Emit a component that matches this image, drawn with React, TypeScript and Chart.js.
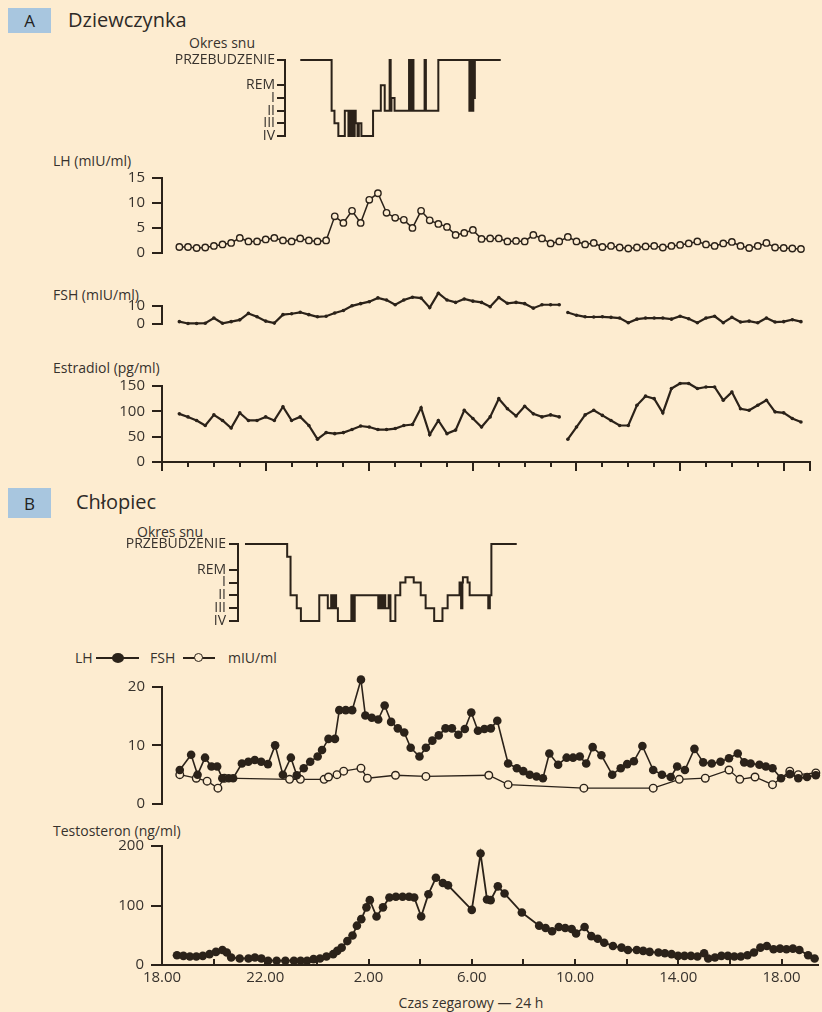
import React, { useEffect, useRef } from "react";
import { Chart, registerables } from "chart.js";

Chart.register(...registerables);

const W = 822;
const H = 1012;
const INK = "#2b2219";
const TEXT = "#37322d";
const BG = "#fdecd0";
const BOX = "#a8c6df";
const FONT = "'Open Sans', 'Noto Sans', 'DejaVu Sans', sans-serif";

// ---------- Panel A (girl): 20-min samples, hours after 18:00 ----------
const A_FIRST_SAMPLE_H = 0.67;
const A_SAMPLE_STEP_H = 1 / 3;
const A_BREAK_AFTER = 44; // assay break in FSH / estradiol

const A_LH = [
  1.2, 1.2, 1.0, 1.1, 1.4, 1.7, 2.0, 3.0, 2.3, 2.3,
  2.7, 3.0, 2.5, 2.3, 2.9, 2.5, 2.3, 2.5, 7.3, 6.0,
  8.4, 6.0, 10.6, 11.9, 8.0, 7.0, 6.6, 5.0, 8.4, 6.5,
  5.8, 5.2, 3.6, 4.0, 4.6, 2.8, 2.9, 2.9, 2.3, 2.4,
  2.3, 3.6, 2.9, 1.9, 2.3, 3.2, 2.3, 1.7, 2.0, 1.2,
  1.4, 1.1, 0.9, 1.1, 1.3, 1.4, 1.1, 1.4, 1.6, 1.9,
  2.3, 1.7, 1.4, 1.9, 2.2, 1.4, 1.0, 1.4, 2.0, 1.1,
  1.0, 0.9, 0.8,
];

const A_FSH = [
  1.3, 0.3, 0.3, 0.4, 3.3, 0.4, 1.3, 2.3, 5.9, 4.0,
  1.6, 0.5, 5.2, 5.7, 6.5, 5.2, 4.0, 4.3, 6.1, 7.5,
  10.1, 11.3, 12.4, 14.5, 13.3, 10.7, 13.3, 14.9, 14.4, 9.1,
  17.1, 13.3, 12.0, 13.9, 12.7, 12.0, 9.6, 14.7, 11.5, 12.0,
  11.3, 8.8, 10.7, 10.7, 10.7, 6.4, 4.9, 4.0, 3.9, 4.0,
  3.7, 3.3, 0.7, 2.7, 3.3, 3.3, 3.3, 2.7, 4.3, 2.9,
  0.7, 3.3, 4.3, 0.7, 3.7, 1.1, 1.6, 0.7, 3.3, 1.1,
  1.3, 2.4, 1.3,
];

const A_E2 = [
  95, 89, 82, 72, 93, 82, 67, 97, 82, 82,
  89, 82, 109, 82, 89, 72, 45, 58, 56, 58,
  64, 71, 69, 64, 64, 66, 72, 74, 107, 54,
  82, 56, 63, 102, 86, 69, 89, 125, 105, 91,
  110, 95, 89, 93, 89, 45, 69, 93, 102, 92,
  82, 72, 72, 112, 130, 125, 97, 145, 155, 155,
  145, 148, 148, 122, 138, 105, 102, 112, 122, 99,
  97, 86, 79,
];

// Sleep stage coding: IV=0, III=1, II=2, I=3, REM=4, awake=6
const STAGE_VALUES = [0, 1, 2, 3, 4, 6];
const STAGE_LABELS = ["IV", "III", "II", "I", "REM", "PRZEBUDZENIE"];

const HYP_A_T = [
  5.34, 6.55, 6.66, 6.81, 7.06, 7.20, 7.26, 7.32, 7.36, 7.40,
  7.44, 7.48, 7.55, 7.60, 7.70, 8.15, 8.45, 8.60, 8.79, 8.83,
  8.86, 8.98, 9.54, 9.58, 9.60, 9.64, 9.67, 9.71, 10.14, 10.19,
  10.67, 11.87, 11.90, 11.93, 11.96, 11.99, 12.02, 12.05, 12.08, 13.08,
];
const HYP_A_S = [
  6, 2, 1, 0, 2, 0, 2, 0, 2, 0,
  2, 1, 0, 1, 0, 2, 4, 2, 6, 2,
  3, 2, 6, 2, 6, 2, 6, 2, 6, 2,
  6, 2, 6, 2, 6, 2, 6, 3, 6, 6,
];

// ---------- Panel B (boy) ----------
const HYP_B_T = [
  3.20, 4.83, 4.96, 5.20, 5.36, 6.07, 6.40, 6.53, 6.60, 6.66,
  6.72, 6.79, 7.31, 7.34, 7.38, 7.41, 7.44, 8.35, 8.42, 8.49,
  8.55, 8.62, 8.75, 8.82, 9.01, 9.20, 9.40, 9.72, 9.99, 10.18,
  10.51, 10.83, 11.03, 11.49, 11.55, 11.60, 11.62, 11.80, 11.88, 12.60,
  12.66, 12.72, 13.70,
];
const HYP_B_S = [
  6, 5, 2, 1, 0, 2, 1, 2, 1, 2,
  1, 0, 2, 0, 2, 0, 2, 1, 2, 1,
  2, 1, 2, 0, 2, 3, 3.4, 3, 2, 1,
  0, 1, 2, 3, 1, 3, 3.4, 3, 2, 1,
  2, 6, 6,
];

const B_LH_T = [
  0.69, 1.13, 1.38, 1.67, 1.92, 2.14, 2.34, 2.59, 2.76, 3.10,
  3.35, 3.60, 3.85, 4.11, 4.39, 4.69, 5.00, 5.23, 5.50, 5.75,
  6.04, 6.21, 6.46, 6.71, 6.88, 7.13, 7.38, 7.72, 7.89, 8.14,
  8.39, 8.64, 8.89, 9.15, 9.40, 9.65, 9.99, 10.24, 10.49, 10.74,
  11.00, 11.25, 11.50, 11.75, 12.00, 12.26, 12.51, 12.76, 13.01, 13.43,
  13.77, 14.02, 14.27, 14.53, 14.78, 15.03, 15.37, 15.70, 15.95, 16.21,
  16.46, 16.71, 17.05, 17.47, 17.80, 18.05, 18.31, 18.64, 19.06, 19.40,
  19.74, 19.99, 20.29, 20.66, 21.00, 21.33, 21.67, 22.00, 22.34, 22.59,
  22.84, 23.18, 23.43, 23.69, 24.02, 24.36, 24.69, 25.03, 25.37,
];
const B_LH_V = [
  5.8, 8.4, 5.0, 7.9, 6.4, 6.4, 4.4, 4.4, 4.4, 6.9,
  7.2, 7.5, 7.2, 6.8, 10.0, 5.0, 7.9, 4.9, 6.1, 7.2,
  8.1, 9.2, 11.1, 11.1, 16.0, 16.0, 16.0, 21.2, 15.1, 14.7,
  14.4, 16.8, 14.0, 12.9, 12.2, 9.6, 8.1, 9.6, 10.8, 11.7,
  12.9, 12.9, 11.8, 12.8, 15.6, 12.5, 12.8, 12.9, 14.2, 6.9,
  6.1, 5.6, 5.0, 4.7, 4.4, 8.6, 6.7, 7.9, 7.9, 8.1,
  6.9, 9.7, 8.3, 5.0, 6.1, 6.8, 7.3, 9.9, 5.8, 5.0,
  4.6, 6.4, 5.8, 9.4, 7.1, 6.9, 7.2, 7.8, 8.6, 7.1,
  6.9, 6.7, 6.4, 6.1, 4.4, 5.1, 4.4, 4.6, 4.9,
];

const B_FSH_T = [
  0.69, 1.33, 1.75, 2.17, 2.42, 4.95, 5.37, 6.29, 6.46, 6.79,
  7.05, 7.72, 7.97, 9.06, 10.24, 12.68, 13.43, 16.37, 19.06, 20.07,
  21.08, 22.00, 22.42, 23.01, 23.69, 24.36, 24.69, 25.37,
];
const B_FSH_V = [
  5.0, 4.4, 3.9, 2.7, 4.4, 4.2, 4.2, 4.2, 4.6, 5.0,
  5.6, 6.1, 4.4, 4.9, 4.7, 4.9, 3.3, 2.7, 2.7, 4.2,
  4.4, 5.8, 4.2, 4.6, 3.3, 5.6, 5.0, 5.3,
];

const B_TESTO_T = [
  0.58, 0.83, 1.08, 1.33, 1.58, 1.84, 2.09, 2.34, 2.51, 2.68,
  3.01, 3.35, 3.60, 3.85, 4.11, 4.44, 4.78, 5.11, 5.37, 5.62,
  5.87, 6.12, 6.37, 6.63, 6.79, 6.96, 7.18, 7.38, 7.55, 7.72,
  7.92, 8.05, 8.31, 8.56, 8.81, 9.06, 9.32, 9.57, 9.77, 10.04,
  10.32, 10.61, 10.88, 11.08, 12.00, 12.34, 12.59, 12.73, 13.01, 13.27,
  13.94, 14.61, 14.86, 15.11, 15.37, 15.62, 15.87, 16.04, 16.37, 16.63,
  16.88, 17.13, 17.47, 17.80, 18.05, 18.39, 18.64, 18.89, 19.23, 19.48,
  19.74, 19.99, 20.24, 20.49, 20.74, 21.00, 21.16, 21.42, 21.67, 21.92,
  22.17, 22.42, 22.68, 22.93, 23.18, 23.43, 23.69, 23.94, 24.19, 24.44,
  24.69, 25.03, 25.28,
];
const B_TESTO_V = [
  16.5, 15.4, 14.3, 14.3, 15.4, 18.2, 22.0, 25.3, 20.9, 12.7,
  11.0, 11.0, 12.7, 11.0, 7.2, 7.2, 7.2, 7.2, 7.2, 7.2,
  9.9, 11.0, 14.3, 18.2, 23.7, 29.2, 40.2, 49.6, 66.1, 77.1,
  96.9, 109, 81.5, 96.9, 113.5, 114.6, 114.6, 114.6, 113.5, 81.5,
  119, 146.6, 137.7, 133.9, 92.6, 187.3, 110.2, 109, 132.2, 120.1,
  88.2, 66.1, 62.3, 56.7, 63.9, 62.3, 60.6, 52.9, 63.9, 48.5,
  44.1, 37.5, 32.0, 29.2, 25.3, 25.3, 23.7, 22.0, 20.9, 19.8,
  18.2, 15.4, 15.4, 15.4, 14.3, 19.8, 11.0, 12.7, 15.4, 15.4,
  14.3, 14.3, 16.5, 20.9, 29.2, 32.0, 26.4, 27.5, 26.4, 27.5,
  25.3, 16.5, 11.0,
];

// x axis (clock time) tick labels, every 2 h, labelled every 4 h
const X_TICK_HOURS = [0, 2, 4, 6, 8, 10, 12, 14, 16, 18, 20, 22, 24];
const X_TICK_LABELS = ["18.00", "", "22.00", "", "2.00", "", "6.00", "", "10.00", "", "14.00", "", "18.00"];

const A_X_MAX = 25;
const B_X_MAX = 25.4;

// ---------- helpers ----------
type Pt = { x: number; y: number | null };

const pts = (t: number[], v: number[]): Pt[] => t.map((x, i) => ({ x, y: v[i] }));

const A_TIMES = A_LH.map((_, i) => A_FIRST_SAMPLE_H + i * A_SAMPLE_STEP_H);

const withBreak = (p: Pt[], after: number): Pt[] => [
  ...p.slice(0, after + 1),
  { x: (p[after].x + p[after + 1].x) / 2, y: null },
  ...p.slice(after + 1),
];

// lets markers that sit above an axis bracket (e.g. the LH peak) still be drawn
const unclipPoints = {
  id: "unclipPoints",
  beforeDatasetsDraw(chart: any) {
    const a = chart.chartArea;
    chart.$savedArea = { top: a.top, bottom: a.bottom, left: a.left, right: a.right };
    a.top = 0;
    a.left = 0;
    a.bottom = chart.height;
    a.right = chart.width;
  },
  afterDatasetsDraw(chart: any) {
    if (chart.$savedArea) Object.assign(chart.chartArea, chart.$savedArea);
  },
};

function base(padding: any) {
  return {
    responsive: false,
    maintainAspectRatio: false,
    animation: false,
    devicePixelRatio: 1,
    events: [],
    layout: { padding },
    plugins: { legend: { display: false }, tooltip: { enabled: false }, title: { display: false } },
  };
}

function yAxis(o: {
  width: number;
  min: number;
  max: number;
  ticks: number[];
  labels?: (v: number) => string;
  tickLength?: number;
  padding?: number;
  size?: number;
}) {
  return {
    type: "linear",
    min: o.min,
    max: o.max,
    afterFit: (s: any) => {
      s.width = o.width;
    },
    afterBuildTicks: (s: any) => {
      s.ticks = o.ticks.map((v) => ({ value: v }));
    },
    grid: {
      drawOnChartArea: false,
      drawTicks: true,
      tickLength: o.tickLength ?? 10,
      color: INK,
      lineWidth: 2,
    },
    border: { display: true, color: INK, width: 2 },
    ticks: {
      autoSkip: false,
      padding: o.padding ?? 7,
      color: TEXT,
      font: { family: FONT, size: o.size ?? 15 },
      callback: (v: any) => (o.labels ? o.labels(Number(v)) : String(v)),
    },
  };
}

const hiddenX = (min: number, max: number) => ({ type: "linear", min, max, display: false });

const lineBase = { borderColor: INK, fill: false, tension: 0, clip: false, spanGaps: false };

const openCircle = (r: number) => ({
  ...lineBase,
  borderWidth: 1.5,
  pointRadius: r,
  pointBackgroundColor: BG,
  pointBorderColor: INK,
  pointBorderWidth: 1.4,
});

const filledDot = (r: number, lw: number) => ({
  ...lineBase,
  borderWidth: lw,
  pointRadius: r,
  pointBackgroundColor: INK,
  pointBorderColor: INK,
  pointBorderWidth: 0,
});

const stageLabel = (v: number) => {
  const i = STAGE_VALUES.indexOf(v);
  return i >= 0 ? STAGE_LABELS[i] : "";
};

const hypnogram = (t: number[], s: number[]) => ({
  ...lineBase,
  data: pts(t, s),
  stepped: true,
  borderWidth: 2,
  pointRadius: 0,
});

// ---------- chart configs ----------
const configs: { top: number; height: number; make: () => any }[] = [
  {
    // A: hypnogram
    top: 40,
    height: 110,
    make: () => ({
      type: "line",
      data: { datasets: [hypnogram(HYP_A_T, HYP_A_S)] },
      options: {
        ...base({ left: 0, right: W - 501, top: 20, bottom: 14 }),
        scales: {
          x: hiddenX(4.75, 13.09),
          y: yAxis({ width: 285, min: 0, max: 6, ticks: STAGE_VALUES, labels: stageLabel, tickLength: 8, padding: 2, size: 14 }),
        },
      },
    }),
  },
  {
    // A: LH
    top: 160,
    height: 110,
    make: () => ({
      type: "line",
      data: { datasets: [{ ...openCircle(3.2), data: pts(A_TIMES, A_LH) }] },
      options: {
        ...base({ left: 0, right: W - 809.5, top: 17.7, bottom: 17 }),
        scales: {
          x: hiddenX(0, A_X_MAX),
          y: yAxis({ width: 162, min: 0, max: 15, ticks: [0, 5, 10, 15] }),
        },
      },
    }),
  },
  {
    // A: FSH
    top: 270,
    height: 70,
    make: () => ({
      type: "line",
      data: { datasets: [{ ...filledDot(1.8, 2.2), data: withBreak(pts(A_TIMES, A_FSH), A_BREAK_AFTER) }] },
      options: {
        ...base({ left: 0, right: W - 809.5, top: 36, bottom: 11 }),
        scales: {
          x: hiddenX(0, A_X_MAX),
          y: yAxis({ width: 162, min: 0, max: 10, ticks: [0, 10] }),
        },
      },
    }),
  },
  {
    // A: Estradiol with time axis
    top: 370,
    height: 110,
    make: () => ({
      type: "line",
      data: { datasets: [{ ...filledDot(1.8, 2.2), data: withBreak(pts(A_TIMES, A_E2), A_BREAK_AFTER) }] },
      options: {
        ...base({ left: 0, right: W - 809.5, top: 15, bottom: 18 }),
        scales: {
          x: {
            type: "linear",
            min: 0,
            max: A_X_MAX,
            afterFit: (s: any) => {
              s.height = 0;
            },
            ticks: { display: false, stepSize: 1 },
            grid: { drawOnChartArea: false, drawTicks: true, tickLength: 5, color: INK, lineWidth: 2 },
            border: { display: true, color: INK, width: 2 },
          },
          x2: {
            type: "linear",
            position: "bottom",
            min: 0,
            max: A_X_MAX,
            afterFit: (s: any) => {
              s.height = 0;
            },
            ticks: { display: false, stepSize: 4 },
            grid: { drawOnChartArea: false, drawTicks: true, tickLength: 9, color: INK, lineWidth: 2 },
            border: { display: false },
          },
          y: yAxis({ width: 162, min: 0, max: 150, ticks: [0, 50, 100, 150] }),
        },
      },
    }),
  },
  {
    // B: hypnogram
    top: 525,
    height: 110,
    make: () => ({
      type: "line",
      data: { datasets: [hypnogram(HYP_B_T, HYP_B_S)] },
      options: {
        ...base({ left: 0, right: W - 517, top: 19, bottom: 14 }),
        scales: {
          x: hiddenX(2.93, 13.71),
          y: yAxis({ width: 238, min: 0, max: 6, ticks: STAGE_VALUES, labels: stageLabel, tickLength: 9, padding: 3, size: 14 }),
        },
      },
    }),
  },
  {
    // B: LH + FSH
    top: 670,
    height: 150,
    make: () => ({
      type: "line",
      data: {
        datasets: [
          { ...filledDot(4.3, 1.6), data: pts(B_LH_T, B_LH_V) },
          { ...openCircle(3.8), borderWidth: 1.3, data: pts(B_FSH_T, B_FSH_V) },
        ],
      },
      options: {
        ...base({ left: 0, right: W - 820, top: 16.7, bottom: 13.3 }),
        scales: {
          x: hiddenX(0, B_X_MAX),
          y: yAxis({ width: 162, min: 0, max: 20, ticks: [0, 10, 20] }),
        },
      },
    }),
  },
  {
    // B: Testosterone with clock-time axis
    top: 830,
    height: 182,
    make: () => ({
      type: "line",
      data: { datasets: [{ ...filledDot(4.3, 1.8), data: pts(B_TESTO_T, B_TESTO_V) }] },
      options: {
        ...base({ left: 0, right: W - 820, top: 14, bottom: 17 }),
        scales: {
          x: {
            type: "linear",
            min: 0,
            max: B_X_MAX,
            afterFit: (s: any) => {
              s.height = 30;
            },
            afterBuildTicks: (s: any) => {
              s.ticks = X_TICK_HOURS.map((v) => ({ value: v }));
            },
            ticks: {
              autoSkip: false,
              maxRotation: 0,
              padding: 10,
              color: TEXT,
              font: { family: FONT, size: 15 },
              callback: (_v: any, i: number) => X_TICK_LABELS[i],
            },
            grid: { drawOnChartArea: false, drawTicks: true, tickLength: -6, color: INK, lineWidth: 2 },
            border: { display: true, color: INK, width: 2 },
          },
          y: yAxis({ width: 162, min: 0, max: 200, ticks: [0, 100, 200], tickLength: 11 }),
        },
      },
    }),
  },
];

function ChartCanvas({ top, height, make }: { top: number; height: number; make: () => any }) {
  const ref = useRef<HTMLCanvasElement>(null);
  useEffect(() => {
    if (!ref.current) return;
    const cfg = make();
    cfg.plugins = [unclipPoints];
    const chart = new Chart(ref.current, cfg);
    return () => chart.destroy();
  }, []);
  return (
    <canvas
      ref={ref}
      width={W}
      height={height}
      style={{ position: "absolute", left: 0, top, width: W, height, display: "block" }}
    />
  );
}

function Label({
  x,
  y,
  text,
  size = 14,
  align = "left",
  color = TEXT,
}: {
  x: number;
  y: number;
  text: string;
  size?: number;
  align?: "left" | "center" | "right";
  color?: string;
}) {
  const tx = align === "center" ? "-50%" : align === "right" ? "-100%" : "0";
  return (
    <div
      style={{
        position: "absolute",
        left: x,
        top: y,
        transform: `translate(${tx}, -50%)`,
        fontFamily: FONT,
        fontSize: size,
        color,
        whiteSpace: "nowrap",
        lineHeight: 1,
      }}
    >
      {text}
    </div>
  );
}

function Box({ x, y, w, h, text }: { x: number; y: number; w: number; h: number; text: string }) {
  return (
    <div
      style={{
        position: "absolute",
        left: x,
        top: y,
        width: w,
        height: h,
        background: BOX,
        fontFamily: FONT,
        fontSize: 17,
        color: "#222",
        display: "flex",
        alignItems: "center",
        justifyContent: "center",
      }}
    >
      {text}
    </div>
  );
}

export default function App() {
  return (
    <div
      style={{
        position: "fixed",
        left: 0,
        top: 0,
        width: W,
        height: H,
        background: BG,
        overflow: "hidden",
      }}
    >
      <Box x={8} y={8} w={43} h={25} text="A" />
      <Label x={68} y={20} text="Dziewczynka" size={20} color="#2e2a27" />
      <Label x={222} y={43} text="Okres snu" size={14} align="center" />
      <Label x={53} y={161} text="LH (mIU/ml)" size={14} />
      <Label x={53} y={295} text="FSH (mIU/ml)" size={14} />
      <Label x={53} y={368} text="Estradiol (pg/ml)" size={14} />

      <Box x={8} y={488} w={43} h={30} text="B" />
      <Label x={76} y={502} text="Chłopiec" size={20} color="#2e2a27" />
      <Label x={170} y={532} text="Okres snu" size={14} align="center" />

      {/* LH / FSH key */}
      <Label x={75} y={658} text="LH" size={14} />
      <div style={{ position: "absolute", left: 96, top: 657, width: 43, height: 2, background: INK }} />
      <div
        style={{ position: "absolute", left: 112, top: 653, width: 12, height: 10, borderRadius: "50%", background: INK }}
      />
      <Label x={150} y={658} text="FSH" size={14} />
      <div style={{ position: "absolute", left: 183, top: 657, width: 32, height: 2, background: INK }} />
      <div
        style={{
          position: "absolute",
          left: 194,
          top: 653,
          width: 7,
          height: 7,
          borderRadius: "50%",
          background: BG,
          border: `1.5px solid ${INK}`,
        }}
      />
      <Label x={228} y={658} text="mIU/ml" size={14} />

      <Label x={53} y={831} text="Testosteron (ng/ml)" size={14} />
      <Label x={471} y={1003} text="Czas zegarowy — 24 h" size={14} align="center" />

      {configs.map((c, i) => (
        <ChartCanvas key={i} top={c.top} height={c.height} make={c.make} />
      ))}
    </div>
  );
}
